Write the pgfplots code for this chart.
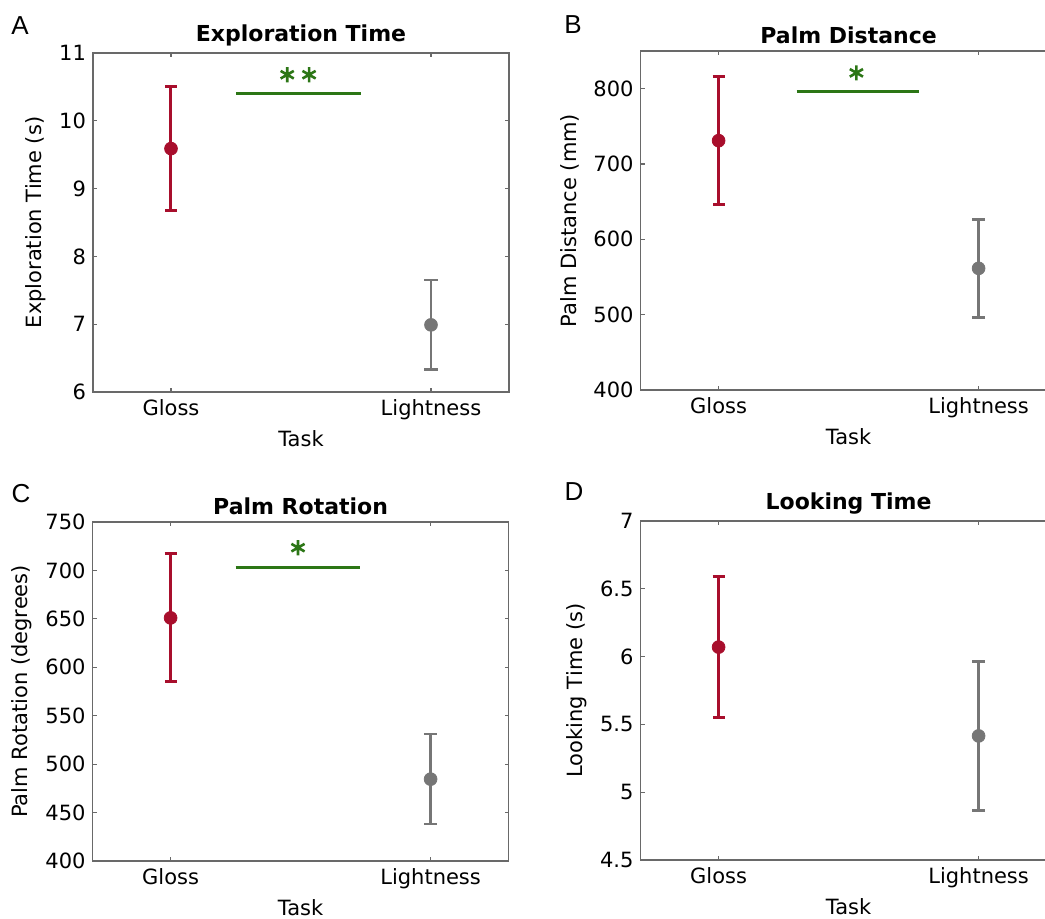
\documentclass[border=0pt]{standalone}
\usepackage{fontspec}
\setmainfont{DejaVu Sans}
\newfontfamily\letterfont{Liberation Sans}
\usepackage{pgfplots}
\pgfplotsset{compat=1.18}

\definecolor{glossred}{RGB}{168,14,44}
\definecolor{lightgrey}{RGB}{118,118,118}
\definecolor{sigreen}{RGB}{44,118,22}
\definecolor{boxgray}{RGB}{105,105,105}

\pgfplotsset{
  panel/.style={
    scale only axis, width=208pt, height=169.5pt,
    anchor=south west,
    xmin=0.7, xmax=2.3,
    xtick={1,2}, xticklabels={Gloss,Lightness},
    xlabel={Task},
    axis line style={boxgray, line width=0.7pt},
    tick style={boxgray, line width=0.6pt},
    major tick length=2pt,
    tick align=inside,
    /pgf/number format/assume math mode=true,
    tick label style={font=\fontsize{10.5}{12}\selectfont},
    label style={font=\fontsize{10.5}{12}\selectfont},
    xlabel style={yshift=1.5pt},
    title style={font=\fontsize{11}{12}\selectfont\bfseries, yshift=-6pt},
  },
  gloss/.style={glossred, only marks, mark=*, mark size=3.2pt,
    error bars/.cd, y dir=both, y explicit,
    error bar style={line width=1.5pt, glossred},
    error mark options={rotate=90, mark size=3pt, line width=1.5pt, glossred}},
  light/.style={lightgrey, only marks, mark=*, mark size=3.2pt,
    error bars/.cd, y dir=both, y explicit,
    error bar style={line width=1.2pt, lightgrey},
    error mark options={rotate=90, mark size=3.3pt, line width=1.2pt, lightgrey}},
  sigline/.style={sigreen, line width=1.5pt, no marks},
  sigstar/.style={sigreen, only marks, mark=asterisk, mark size=3.8pt,
    mark options={line width=1.3pt}},
}

\begin{document}
\begin{tikzpicture}
\useasboundingbox (0,0) rectangle (522.5pt,459pt);

% A
\begin{axis}[panel, at={(46.5pt,263pt)},
  title={Exploration Time}, ylabel={Exploration Time (s)},
  ymin=6, ymax=11, ytick={6,7,8,9,10,11}]
\addplot[gloss] coordinates {(1,9.59) +- (0,0.91)};
\addplot[light] coordinates {(2,6.99) +- (0,0.66)};
\addplot[sigline] coordinates {(1.25,10.40) (1.73,10.40)};
\addplot[sigstar] coordinates {(1.447,10.68) (1.531,10.68)};
\end{axis}

% B
\begin{axis}[panel, at={(320.3pt,264pt)},
  title={Palm Distance}, ylabel={Palm Distance (mm)},
  ymin=400, ymax=850, ytick={400,500,600,700,800}]
\addplot[gloss] coordinates {(1,731) +- (0,84.5)};
\addplot[light] coordinates {(2,561.5) +- (0,65)};
\addplot[sigline] coordinates {(1.30,796.5) (1.77,796.5)};
\addplot[sigstar] coordinates {(1.53,821)};
\end{axis}

% C
\begin{axis}[panel, at={(46.3pt,28.5pt)},
  title={Palm Rotation}, ylabel={Palm Rotation (degrees)},
  ymin=400, ymax=750, ytick={400,450,500,550,600,650,700,750}]
\addplot[gloss] coordinates {(1,651) +- (0,66)};
\addplot[light] coordinates {(2,484.5) +- (0,46.5)};
\addplot[sigline] coordinates {(1.25,703.5) (1.73,703.5)};
\addplot[sigstar] coordinates {(1.49,723.5)};
\end{axis}

% D
\begin{axis}[panel, at={(320.3pt,29pt)},
  title={Looking Time}, ylabel={Looking Time (s)},
  ymin=4.5, ymax=7, ytick={4.5,5,5.5,6,6.5,7}]
\addplot[gloss] coordinates {(1,6.07) +- (0,0.52)};
\addplot[light] coordinates {(2,5.415) +- (0,0.55)};
\end{axis}

\node[font=\letterfont\fontsize{13}{13}\selectfont] at (10pt,446pt) {A};
\node[font=\letterfont\fontsize{13}{13}\selectfont] at (286.5pt,446.5pt) {B};
\node[font=\letterfont\fontsize{13}{13}\selectfont] at (10.5pt,212pt) {C};
\node[font=\letterfont\fontsize{13}{13}\selectfont] at (287pt,213pt) {D};
\end{tikzpicture}
\end{document}
